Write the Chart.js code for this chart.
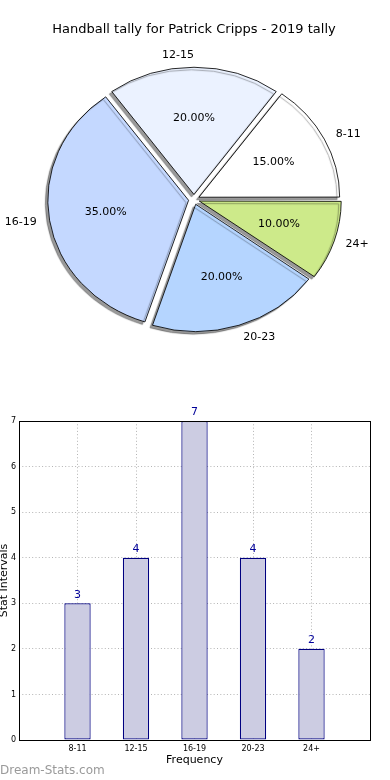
<!DOCTYPE html>
<html>
<head>
<meta charset="utf-8">
<script src="https://cdn.jsdelivr.net/npm/chart.js@4.4.1/dist/chart.umd.min.js"></script>
<style>
  body { margin: 0; background: #fff; }
  #wrap { position: relative; width: 390px; height: 780px; overflow: hidden; font-family: "DejaVu Sans", sans-serif; }
  #pieChart { position: absolute; left: 0; top: 0; }
  #barChart { position: absolute; left: 0; top: 390px; }
  #mark { position: absolute; left: 0; top: 763px; font-size: 12px; color: #9a9a9a; }
</style>
</head>
<body>
<div id="wrap">
  <canvas id="pieChart" width="390" height="370"></canvas>
  <canvas id="barChart" width="390" height="380"></canvas>
  <div id="mark">Dream-Stats.com</div>
</div>
<script>
// --- data ---
const categories = ['8-11', '12-15', '16-19', '20-23', '24+'];
const counts = [3, 4, 7, 4, 2];
const sliceColors = ['#ffffff', '#ebf2ff', '#c4d8ff', '#b5d5ff', '#cdea8a'];
const yTicks = [0, 1, 2, 3, 4, 5, 6, 7];

const FONT = '"DejaVu Sans", sans-serif';
const total = counts.reduce((a, b) => a + b, 0);
const SX = 1.1; // pie is drawn a bit wider than tall

// pie goes counter-clockwise from east, chart.js goes clockwise, so flip the order
const pieLabels = categories.slice().reverse();
const pieValues = counts.slice().reverse();
const pieColors = sliceColors.slice().reverse();

const ellipsePlugin = {
    id: 'ellipse',
    beforeDatasetsDraw(chart) {
        const ctx = chart.ctx;
        const a = chart.getDatasetMeta(0).data[0];
        ctx.save();
        ctx.translate(a.x, a.y);
        ctx.scale(SX, 1);
        ctx.translate(-a.x, -a.y);
        ctx.shadowColor = 'rgba(0,0,0,0.4)';
        ctx.shadowBlur = 1;
        ctx.shadowOffsetX = -2.5;
        ctx.shadowOffsetY = 2.5;
    },
    afterDatasetsDraw(chart) {
        chart.ctx.restore();
    },
    afterDraw(chart) {
        const ctx = chart.ctx;
        const meta = chart.getDatasetMeta(0);
        ctx.save();
        ctx.fillStyle = '#000';
        ctx.textBaseline = 'middle';
        ctx.font = '11px ' + FONT;
        meta.data.forEach((arc, i) => {
            const mid = (arc.startAngle + arc.endAngle) / 2;
            const d = (arc.options.offset || 0) / 4;
            const r = arc.outerRadius;
            const at = k => ({
                x: arc.x + SX * (d + k * r) * Math.cos(mid),
                y: arc.y + (d + k * r) * Math.sin(mid)
            });
            const p = at(1.1);
            ctx.textAlign = Math.cos(mid) > 0.01 ? 'left' : 'right';
            ctx.fillText(pieLabels[i], p.x, p.y);
            const q = at(0.6);
            ctx.textAlign = 'center';
            ctx.fillText((pieValues[i] / total * 100).toFixed(2) + '%', q.x, q.y);
        });
        ctx.restore();
    }
};

new Chart(document.getElementById('pieChart'), {
    type: 'pie',
    data: {
        labels: pieLabels,
        datasets: [{
            data: pieValues,
            backgroundColor: pieColors,
            borderColor: '#000',
            borderWidth: 0.8,
            offset: 20
        }]
    },
    options: {
        responsive: false,
        animation: false,
        rotation: 90,
        radius: 127,
        layout: { padding: { left: 0, right: 2, top: 0, bottom: 8.6 } },
        plugins: {
            legend: { display: false },
            tooltip: { enabled: false },
            title: {
                display: true,
                text: 'Handball tally for Patrick Cripps - 2019 tally',
                color: '#000',
                font: { family: FONT, size: 13, weight: 'normal' },
                padding: { top: 22, bottom: 0 }
            }
        }
    },
    plugins: [ellipsePlugin]
});

// --- bar chart ---
const barPlugin = {
    id: 'barExtras',
    afterDraw(chart) {
        const ctx = chart.ctx;
        const area = chart.chartArea;
        ctx.save();
        ctx.strokeStyle = '#000';
        ctx.lineWidth = 1;
        ctx.strokeRect(Math.round(area.left) + 0.5, Math.round(area.top) + 0.5,
            Math.round(area.right - area.left), Math.round(area.bottom - area.top));
        ctx.fillStyle = '#000099';
        ctx.font = '11px ' + FONT;
        ctx.textAlign = 'center';
        ctx.textBaseline = 'bottom';
        chart.getDatasetMeta(0).data.forEach((bar, i) => {
            ctx.fillText(String(counts[i]), bar.x, bar.y - 3);
        });
        ctx.restore();
    }
};

new Chart(document.getElementById('barChart'), {
    type: 'bar',
    data: {
        datasets: [{
            data: counts.map((c, i) => ({ x: i + 1, y: c })),
            backgroundColor: '#cccce2',
            borderColor: '#000080',
            borderWidth: 1.2,
            borderSkipped: false,
            inflateAmount: 0,
            categoryPercentage: 1,
            barPercentage: 0.45
        }]
    },
    options: {
        responsive: false,
        animation: false,
        layout: { padding: { left: 0, right: 20, top: 31, bottom: 0 } },
        plugins: { legend: { display: false }, tooltip: { enabled: false } },
        scales: {
            x: {
                type: 'linear',
                min: 0,
                max: 6,
                offset: false,
                z: 1,
                afterFit: s => { s.height = 30; },
                grid: { color: '#b4b4b4', lineWidth: 1, drawTicks: false, offset: false },
                border: { display: false, dash: [1, 2.3] },
                ticks: {
                    stepSize: 1,
                    autoSkip: false,
                    maxRotation: 0,
                    padding: 4,
                    color: '#000',
                    font: { family: FONT, size: 8 },
                    callback: v => (v >= 1 && v <= categories.length) ? categories[v - 1] : ''
                },
                title: {
                    display: true,
                    text: 'Frequency',
                    color: '#000',
                    font: { family: FONT, size: 11 },
                    padding: { top: 0, bottom: 3.4 }
                }
            },
            y: {
                min: yTicks[0],
                max: yTicks[yTicks.length - 1],
                z: 1,
                afterFit: s => { s.width = 19; },
                grid: { color: '#b4b4b4', lineWidth: 1, drawTicks: false },
                border: { display: false, dash: [1, 2.3] },
                ticks: {
                    stepSize: 1,
                    padding: 3,
                    color: '#000',
                    font: { family: FONT, size: 8 }
                },
                title: {
                    display: true,
                    text: 'Stat Intervals',
                    color: '#000',
                    font: { family: FONT, size: 11 },
                    padding: { top: -2.6, bottom: 0 }
                }
            }
        }
    },
    plugins: [barPlugin]
});
</script>
</body>
</html>
